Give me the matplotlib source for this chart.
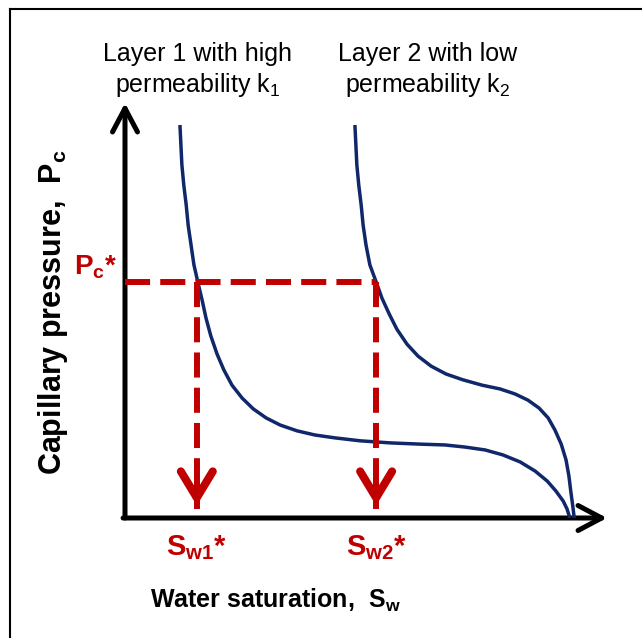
import matplotlib
matplotlib.use("Agg")
import matplotlib.pyplot as plt

# curve points (Sw, Pc in axis units 0..1)
sw_layer1 = [0.114, 0.116, 0.118, 0.122, 0.127, 0.131, 0.137, 0.143, 0.151, 0.160, 0.168, 0.178,
             0.191, 0.205, 0.222, 0.243, 0.266, 0.293, 0.322, 0.357, 0.394, 0.436, 0.488, 0.550,
             0.612, 0.664, 0.705, 0.747, 0.784, 0.820, 0.851, 0.876, 0.894, 0.909, 0.917, 0.923]
pc_layer1 = [0.947, 0.899, 0.851, 0.802, 0.754, 0.706, 0.658, 0.610, 0.569, 0.525, 0.482, 0.439,
             0.395, 0.357, 0.320, 0.289, 0.263, 0.241, 0.224, 0.210, 0.200, 0.193, 0.186, 0.181,
             0.178, 0.176, 0.171, 0.164, 0.152, 0.135, 0.113, 0.089, 0.065, 0.041, 0.022, 0.0]
sw_layer2 = [0.477, 0.479, 0.481, 0.485, 0.490, 0.494, 0.500, 0.508, 0.521, 0.533, 0.548, 0.564,
             0.585, 0.608, 0.635, 0.666, 0.701, 0.741, 0.778, 0.809, 0.836, 0.859, 0.878, 0.892,
             0.905, 0.915, 0.921, 0.925, 0.929, 0.932]
pc_layer2 = [0.947, 0.899, 0.851, 0.802, 0.754, 0.706, 0.658, 0.610, 0.569, 0.530, 0.492, 0.455,
             0.419, 0.390, 0.366, 0.347, 0.333, 0.320, 0.311, 0.299, 0.284, 0.265, 0.241, 0.212,
             0.178, 0.140, 0.101, 0.063, 0.029, 0.0]
pc_star = 0.569
sw_stars = [0.149, 0.521]
star_labels = [r"$\mathbf{S_{w1}}$*", r"$\mathbf{S_{w2}}$*"]
layer_labels = ["Layer 1 with high\npermeability k$_1$", "Layer 2 with low\npermeability k$_2$"]
layer_x = [0.151, 0.627]

plt.rcParams["font.family"] = ["Liberation Sans", "DejaVu Sans"]
plt.rcParams["mathtext.fontset"] = "custom"
plt.rcParams["mathtext.rm"] = "Liberation Sans"
plt.rcParams["mathtext.it"] = "Liberation Sans"
plt.rcParams["mathtext.bf"] = "Liberation Sans:bold"

NAVY = "#10286a"
RED = "#c00000"

fig = plt.figure(figsize=(6.42, 6.38), dpi=100)

# frame around the slide (only top and left edges show)
bg = fig.add_axes([10.5 / 642, -0.02, 1.0, 1.02 - 8.5 / 638])
bg.set_xticks([]); bg.set_yticks([])
for s in ("right", "bottom"):
    bg.spines[s].set_visible(False)
for s in ("top", "left"):
    bg.spines[s].set_linewidth(1.5)
bg.patch.set_alpha(0)

ax = fig.add_axes([125 / 642, 120 / 638, 482 / 642, 415 / 638])
ax.set_xlim(0, 1); ax.set_ylim(0, 1)
ax.axis("off")

# axes with arrow heads
akw = dict(arrowstyle="->,head_length=1.7,head_width=0.9", lw=3.6, color="black",
           shrinkA=0, shrinkB=0, mutation_scale=10)
ax.annotate("", xy=(0, 1.0), xytext=(0, 0), arrowprops=akw, annotation_clip=False)
ax.annotate("", xy=(1.0, 0), xytext=(-0.004, 0), arrowprops=akw, annotation_clip=False)

ckw = dict(color=NAVY, lw=2.5, solid_capstyle="butt", solid_joinstyle="round", zorder=3)
ax.plot(sw_layer1, pc_layer1, **ckw)
ax.plot(sw_layer2, pc_layer2, **ckw)

# dashed guide lines
dkw = dict(color=RED, lw=4.3, dashes=(4.2, 1.7), zorder=4)
ax.plot([0, sw_stars[1]], [pc_star, pc_star], **dkw)
for x in sw_stars:
    ax.plot([x, x], [pc_star, 0.11], **dkw)
    ax.plot([x, x], [0.105, 0.03], color=RED, lw=4.3, zorder=4)
    ax.annotate("", xy=(x, 0.03), xytext=(x, 0.06),
                arrowprops=dict(arrowstyle="->,head_length=1.9,head_width=1.15", lw=5.8, color=RED,
                                shrinkA=0, shrinkB=0, mutation_scale=10,
                                joinstyle="miter"), zorder=4)

for x, lab in zip(sw_stars, star_labels):
    ax.text(x, -0.072, lab, color=RED, fontsize=21, fontweight="bold", ha="center", va="center")
ax.text(-0.062, 0.605, r"$\mathbf{P_c}$*", color=RED, fontsize=20, fontweight="bold",
        ha="center", va="center")

for x, lab in zip(layer_x, layer_labels):
    ax.text(x, 1.078, lab, fontsize=18, ha="center", va="center", linespacing=1.25)

ax.text(0.311, -0.198, r"Water saturation,  $\mathbf{S_w}$", fontsize=18, fontweight="bold",
        ha="center", va="center")
ax.text(-0.150, 0.496, r"Capillary pressure,  $\mathbf{P_c}$", fontsize=22, fontweight="bold",
        ha="center", va="center", rotation=90)

fig.savefig("out.png", dpi=100)
